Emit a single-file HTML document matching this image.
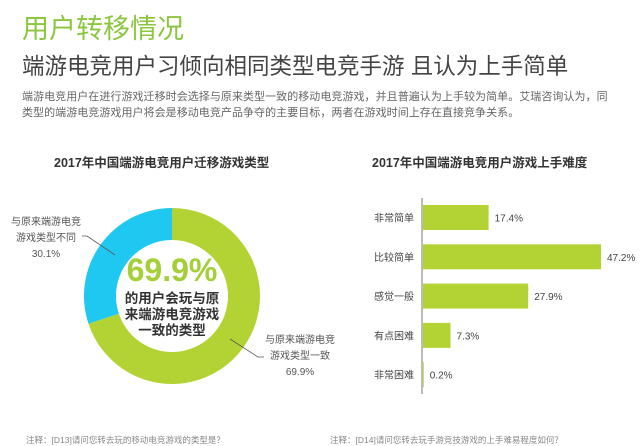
<!DOCTYPE html>
<html><head><meta charset="utf-8"><style>
body{margin:0;width:640px;height:446px;background:#fff;overflow:hidden;font-family:"Liberation Sans","Noto Sans CJK SC",sans-serif;position:relative}
.a{position:absolute;white-space:nowrap}
</style></head><body>
<div class="a" style="left:22px;top:7px;font-size:27px;color:#8cc63f">用户转移情况</div>
<div class="a" style="left:22px;top:49px;font-size:22.5px;color:#444">端游电竞用户习倾向相同类型电竞手游 且认为上手简单</div>
<div class="a" style="left:22px;top:89px;font-size:11px;line-height:16px;color:#666;letter-spacing:0.05px">端游电竞用户在进行游戏迁移时会选择与原来类型一致的移动电竞游戏，并且普遍认为上手较为简单。艾瑞咨询认为，同<br>类型的端游电竞游戏用户将会是移动电竞产品争夺的主要目标，两者在游戏时间上存在直接竞争关系。</div>
<div class="a" style="left:54px;top:152px;font-size:12.5px;font-weight:bold;color:#333">2017年中国端游电竞用户迁移游戏类型</div>
<div class="a" style="left:372px;top:152px;font-size:12.5px;font-weight:bold;color:#333">2017年中国端游电竞用户游戏上手难度</div>
<svg id="donut" class="a" style="left:0;top:0" width="640" height="446"></svg>
<svg id="bars" class="a" style="left:0;top:0" width="640" height="446"></svg>
<div class="a" style="left:117px;top:252px;width:110px;text-align:center;font-size:32px;font-weight:bold;color:#a4cf38">69.9%</div>
<div class="a" style="left:117px;top:291px;width:110px;text-align:center;font-size:13.5px;line-height:16px;font-weight:bold;color:#333">的用户会玩与原<br>来端游电竞游戏<br>一致的类型</div>
<div class="a" style="left:4px;top:215px;width:84px;text-align:center;font-size:10px;line-height:16px;color:#555">与原来端游电竞<br>游戏类型不同<br>30.1%</div>
<div class="a" style="left:258px;top:333px;width:84px;text-align:center;font-size:10px;line-height:16px;color:#555">与原来端游电竞<br>游戏类型一致<br>69.9%</div>
<div class="a" style="left:26px;top:434px;font-size:8.5px;color:#888">注释：[D13]请问您转去玩的移动电竞游戏的类型是？</div>
<div class="a" style="left:330px;top:434px;font-size:8.5px;color:#888">注释：[D14]请问您转去玩手游竞技游戏的上手难易程度如何？</div>
<script>
const donutLabels=["与原来端游电竞游戏类型一致","与原来端游电竞游戏类型不同"];
const donutValues=[69.9,30.1];
const donutColors=["#b3d334","#1fc8f0"];
const barCats=["非常简单","比较简单","感觉一般","有点困难","非常困难"];
const barValues=[17.4,47.2,27.9,7.3,0.2];
const NS="http://www.w3.org/2000/svg";
(function(){
 const s=document.getElementById('donut');const cx=172,cy=296,R=88,r=56;
 const tot=donutValues.reduce((a,b)=>a+b,0);let a0=0;
 donutValues.forEach((v,i)=>{
  const a1=a0+v/tot*2*Math.PI;
  const p=(ang,rad)=>[cx+rad*Math.sin(ang),cy-rad*Math.cos(ang)];
  const [x1,y1]=p(a0,R),[x2,y2]=p(a1,R),[x3,y3]=p(a1,r),[x4,y4]=p(a0,r);
  const lg=(a1-a0)>Math.PI?1:0;
  const el=document.createElementNS(NS,'path');
  el.setAttribute('d',`M${x1},${y1}A${R},${R} 0 ${lg} 1 ${x2},${y2}L${x3},${y3}A${r},${r} 0 ${lg} 0 ${x4},${y4}Z`);
  el.setAttribute('fill',donutColors[i]);
  
  
  s.appendChild(el);a0=a1;
 });
 [[82,236,115,255],[230,339,258,357]].forEach((l,i)=>{
  const e=document.createElementNS(NS,'polyline');
  e.setAttribute('points',`${l[0]},${l[1]} ${l[0]+(i?0:5)},${l[1]} ${l[2]},${l[3]} ${l[2]+(i?6:0)},${l[3]}`);
  e.setAttribute('fill','none');e.setAttribute('stroke','#555');e.setAttribute('stroke-width','0.8');
  
  
  s.appendChild(e);
 });
})();
(function(){
 const s=document.getElementById('bars');const x0=422,scale=178/47.2,top=205,pitch=39.3,h=25;
 const ax=document.createElementNS(NS,'line');
 ax.setAttribute('x1',x0);ax.setAttribute('x2',x0);ax.setAttribute('y1',198);ax.setAttribute('y2',394);ax.setAttribute('stroke','#777');
 
 
 s.appendChild(ax);
 barCats.forEach((c,i)=>{
  const y=top+i*pitch,w=barValues[i]*scale;
  const b=document.createElementNS(NS,'rect');
  b.setAttribute('x',x0+1);b.setAttribute('y',y);b.setAttribute('width',w);b.setAttribute('height',h);b.setAttribute('fill','#b3d334');
  
  
  s.appendChild(b);
  const t=document.createElementNS(NS,'text');
  t.setAttribute('x',414);t.setAttribute('y',y+h/2+4);t.setAttribute('text-anchor','end');t.setAttribute('font-size','10');t.setAttribute('fill','#444');t.textContent=c;
  
  
  s.appendChild(t);
  const v=document.createElementNS(NS,'text');
  v.setAttribute('x',x0+w+7);v.setAttribute('y',y+h/2+4);v.setAttribute('font-size','10');v.setAttribute('fill','#444');v.textContent=barValues[i]+'%';
  
  
  s.appendChild(v);
 });
})();
</script>
</body></html>
